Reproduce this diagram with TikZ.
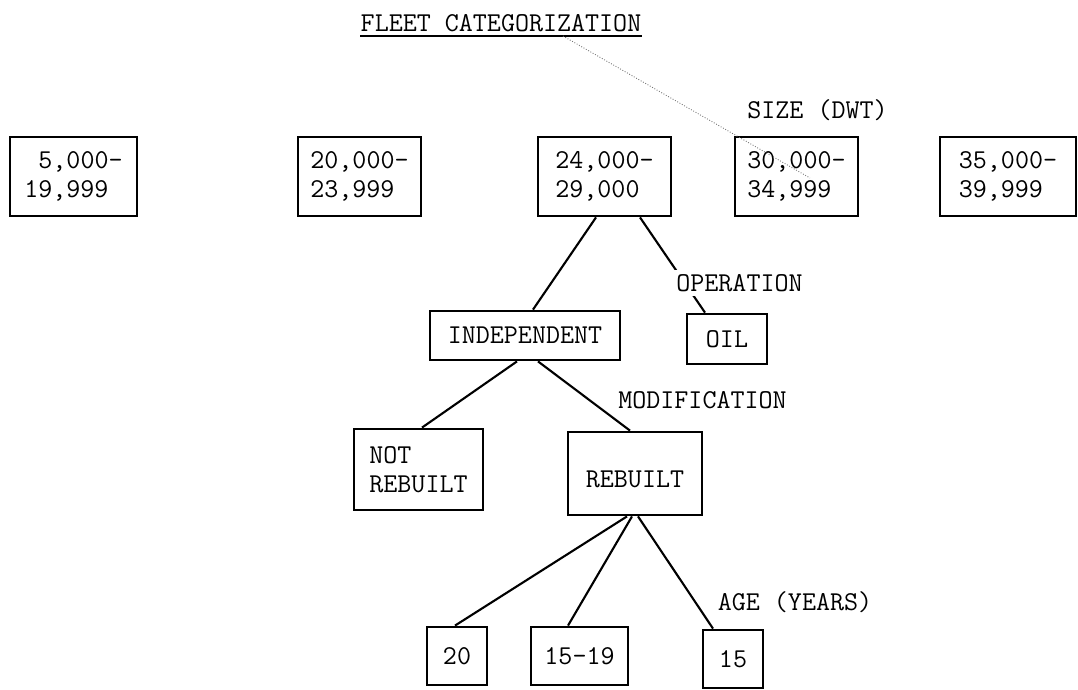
\documentclass[tikz,border=0pt]{standalone}
\usepackage{fontspec}
\begin{document}
\begin{tikzpicture}[font=\ttfamily\fontsize{15.5}{16.5}\selectfont,
  catbox/.style={draw, line width=1.6pt, align=left, inner sep=0pt},
  lbl/.style={fill=white, inner sep=2.5pt},
  link/.style={line width=1.2pt}]
\useasboundingbox (0,0) rectangle (21.56,-13.8);
\node[inner sep=0pt] (title) at (10.02,-0.46) {FLEET CATEGORIZATION};
\draw[line width=1pt] ([yshift=-0.8mm]title.south west) -- ([yshift=-0.8mm]title.south east);
% size classes
\node[catbox, minimum width=2.54cm, minimum height=1.58cm] (s5) at (1.47,-3.53) {\hphantom{1}5,000-\\19,999};
\node[catbox, minimum width=2.46cm, minimum height=1.58cm] (s20) at (7.19,-3.53) {20,000-\\23,999};
\node[catbox, minimum width=2.66cm, minimum height=1.58cm] (s24) at (12.09,-3.53) {24,000-\\29,000};
\node[catbox, minimum width=2.46cm, minimum height=1.58cm] (s30) at (15.93,-3.53) {30,000-\\34,999};
\node[catbox, minimum width=2.72cm, minimum height=1.58cm] (s35) at (20.16,-3.53) {35,000-\\39,999};
% operation
\node[catbox, minimum width=3.8cm, minimum height=0.98cm] (indep) at (10.5,-6.71) {INDEPENDENT};
\node[catbox, minimum width=1.6cm, minimum height=1.0cm] (oil) at (14.54,-6.78) {OIL};
% modification
\node[catbox, minimum width=2.58cm, minimum height=1.62cm] (notreb) at (8.37,-9.39) {NOT\\REBUILT};
\node[catbox, minimum width=2.68cm, minimum height=1.66cm] (reb) at (12.7,-9.47) {\mbox{}\\REBUILT};
% age
\node[catbox, minimum width=1.2cm, minimum height=1.16cm] (a20) at (9.14,-13.12) {20};
\node[catbox, minimum width=1.94cm, minimum height=1.16cm] (a1519) at (11.59,-13.12) {15-19};
\node[catbox, minimum width=1.2cm, minimum height=1.16cm] (a15) at (14.66,-13.18) {15};
\draw[link] ([xshift=-1.7mm]s24.south) -- ([xshift=1.6mm]indep.north);
\draw[link] ([xshift=7.1mm]s24.south) -- ([xshift=-4.4mm]oil.north);
\draw[link] ([xshift=-1.6mm]indep.south) -- ([xshift=0.7mm]notreb.north);
\draw[link] ([xshift=2.6mm]indep.south) -- ([xshift=-1mm]reb.north);
\draw[link] ([xshift=-1.6mm]reb.south) -- ([xshift=-0.4mm]a20.north);
\draw[link] ([xshift=-0.6mm]reb.south) -- ([xshift=-2.3mm]a1519.north);
\draw[link] ([xshift=0.6mm]reb.south) -- ([xshift=-4mm]a15.north);
\coordinate (hair) at (16.2,-3.56);
\draw[black!55, densely dotted, line width=0.5pt] ([xshift=1.24cm, yshift=-0.8mm]title.south) -- (hair);
% level labels
\node (size) at (16.35,-2.2) {SIZE (DWT)};
\node[lbl] (oper) at (14.79,-5.66) {OPERATION};
\node (modif) at (14.05,-8.0) {MODIFICATION};
\node (age) at (15.9,-12.04) {AGE (YEARS)};
\end{tikzpicture}
\end{document}
